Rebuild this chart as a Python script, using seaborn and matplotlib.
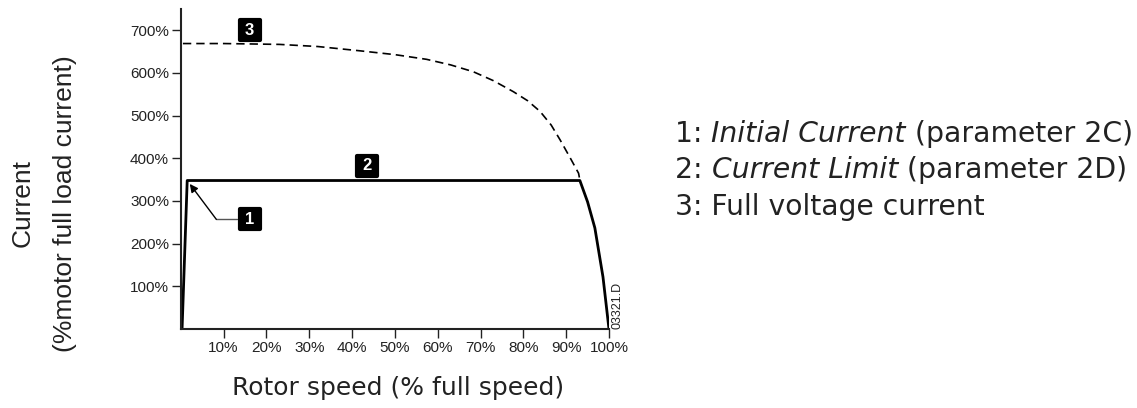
import matplotlib
matplotlib.use("Agg")
import matplotlib.pyplot as plt
from matplotlib.markers import MarkerStyle
import seaborn as sns
import pandas as pd

# full voltage current curve (dashed, label 3)
speed_full = [0.5, 10, 23, 32, 41.8, 50, 57.4, 63, 68.3, 73, 77.7, 81, 83.9, 86.5, 88.6, 91, 92.9, 93.2]
current_full = [669, 669, 667, 662, 652, 643, 632, 619, 603, 582, 556, 535, 510, 478, 443, 400, 365, 349]

# soft start current profile (solid, labels 1 and 2)
speed_soft = [0.3, 1.5, 93.2, 95.0, 96.7, 98.6, 100]
current_soft = [0, 348, 348, 298, 237, 122, 0]

x_ticks = [10, 20, 30, 40, 50, 60, 70, 80, 90, 100]
x_tick_labels = ["10%", "20%", "30%", "40%", "50%", "60%", "70%", "80%", "90%", "100%"]
y_ticks = [100, 200, 300, 400, 500, 600, 700]
y_tick_labels = ["100%", "200%", "300%", "400%", "500%", "600%", "700%"]

legend_lines = [
    ("1: ", "Initial Current", " (parameter 2C)"),
    ("2: ", "Current Limit", " (parameter 2D)"),
    ("3: Full voltage current", "", ""),
]

sns.set_style("ticks")
plt.rcParams["font.family"] = ["Liberation Sans", "DejaVu Sans"]

df_full = pd.DataFrame({"speed": speed_full, "current": current_full})
df_soft = pd.DataFrame({"speed": speed_soft, "current": current_soft})

fig = plt.figure(figsize=(11.37, 4.08), dpi=100)
ax = fig.add_axes([0.159, 0.1936, 0.3766, 0.7844])

sns.lineplot(data=df_full, x="speed", y="current", ax=ax, color="black",
             linewidth=1.2, linestyle=(0, (5, 3)), sort=False, estimator=None)
sns.lineplot(data=df_soft, x="speed", y="current", ax=ax, color="black",
             linewidth=2, sort=False, estimator=None)

ax.set_xlim(0, 100)
ax.set_ylim(0, 750)
ax.set_xticks(x_ticks)
ax.set_xticklabels(x_tick_labels)
ax.set_yticks(y_ticks)
ax.set_yticklabels(y_tick_labels)
ax.tick_params(length=6.5, width=1, labelsize=11, colors="#222222", pad=2)
ax.set_xlabel("")
ax.set_ylabel("")
for side in ["top", "right"]:
    ax.spines[side].set_visible(False)
for side in ["left", "bottom"]:
    ax.spines[side].set_linewidth(1.5)
    ax.spines[side].set_color("#222222")

# numbered labels: black rounded squares with white digits
badge = MarkerStyle("s", joinstyle="round")
for num, (bx, by) in zip(["1", "2", "3"], [(16.1, 257), (43.4, 383), (16.1, 700)]):
    ax.plot(bx, by, marker=badge, ms=14.5, mew=3, color="black", mec="black",
            clip_on=False, zorder=4)
    ax.text(bx, by, num, color="white", fontsize=12, fontweight="bold",
            ha="center", va="center", zorder=5)

# leader line + arrow for label 1
ax.plot([8.3, 13.2], [257, 257], color="#555555", linewidth=1)
ax.annotate("", xy=(2.1, 340), xytext=(8.3, 257),
            arrowprops=dict(arrowstyle="-|>", color="black", lw=1, mutation_scale=12,
                            shrinkA=0, shrinkB=0))

ax.text(102, 1, "03321.D", rotation=90, fontsize=9, ha="center", va="bottom", color="#222222")

fig.text(0.0202, 0.502, "Current", rotation=90, fontsize=19, ha="center", va="center",
         color="#222222")
fig.text(0.0572, 0.502, "(%motor full load current)", rotation=90, fontsize=19,
         ha="center", va="center", color="#222222")

dv = ["DejaVu Sans"]
fig.text(0.35, 0.032, "Rotor speed (% full speed)", fontsize=18, ha="center",
         va="baseline", family=dv, color="#222222")

# legend text on the right with italic parameter names
ys = [0.652, 0.564, 0.473]
for (pre, ital, post), y in zip(legend_lines, ys):
    t = fig.text(0.5937, y, pre, fontsize=20.3, va="baseline", ha="left",
                 family=dv, color="#222222")
    if ital:
        t = ax.annotate(ital, xy=(1, 0), xycoords=t, va="bottom", ha="left",
                        fontsize=20.3, style="italic", family=dv, color="#222222",
                        annotation_clip=False)
        ax.annotate(post, xy=(1, 0), xycoords=t, va="bottom", ha="left",
                    fontsize=20.3, family=dv, color="#222222", annotation_clip=False)

fig.savefig("out.png", dpi=100)
